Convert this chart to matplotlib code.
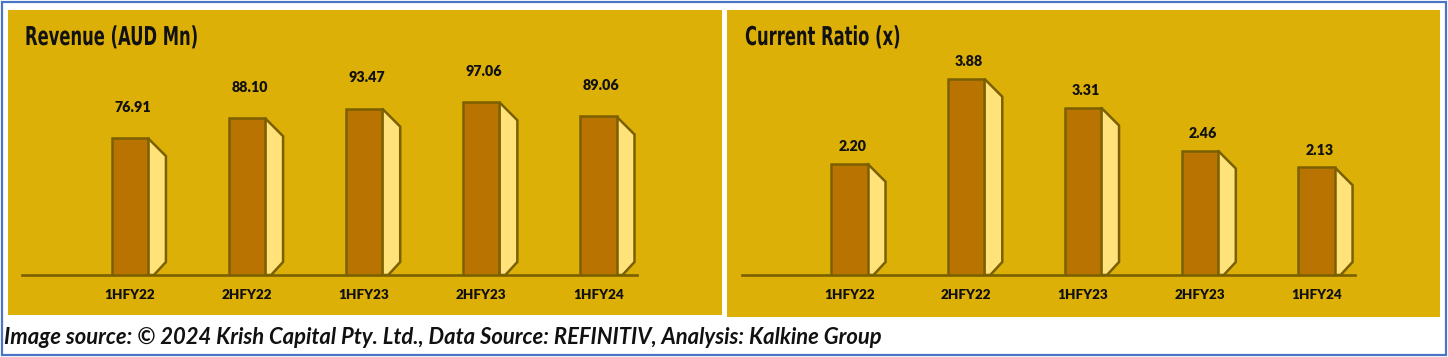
import matplotlib
matplotlib.use("Agg")
import matplotlib.pyplot as plt
from matplotlib.patches import Rectangle, Polygon
from matplotlib.patheffects import AbstractPathEffect
from matplotlib.transforms import Affine2D
import numpy as np

categories = ["1HFY22", "2HFY22", "1HFY23", "2HFY23", "1HFY24"]
revenue = [76.91, 88.10, 93.47, 97.06, 89.06]
current_ratio = [2.20, 3.88, 3.31, 2.46, 2.13]
revenue_labels = ["76.91", "88.10", "93.47", "97.06", "89.06"]
ratio_labels = ["2.20", "3.88", "3.31", "2.46", "2.13"]
titles = ["Revenue (AUD Mn)", "Current Ratio (x)"]
footer = "Image source: \u00a9 2024 Krish Capital Pty. Ltd., Data Source: REFINITIV, Analysis: Kalkine Group"

W, H = 1448, 357
DPI = 100
BG = "#DDB008"
FRONT = "#B87300"
SIDE = "#FFE27A"
EDGE = "#7A6000"
BORDER = "#4A74C6"


class HStretch(AbstractPathEffect):
    """Condense text horizontally about a fixed display x (left edge)."""
    def __init__(self, sx, x0):
        super().__init__()
        self.sx = sx
        self.x0 = x0

    def draw_path(self, renderer, gc, tpath, affine, rgbFace=None):
        t = affine + Affine2D().translate(-self.x0, 0).scale(self.sx, 1).translate(self.x0, 0)
        renderer.draw_path(gc, tpath, t, rgbFace)


fig = plt.figure(figsize=(W / DPI, H / DPI), dpi=DPI)
fig.patch.set_facecolor("white")

def fx(px):
    return px / W

def fy(py):
    return 1 - py / H

# outer border
fig.patches.append(Rectangle((fx(2), fy(355)), fx(1444), 353 / H, transform=fig.transFigure,
                             facecolor="none", edgecolor=BORDER, linewidth=1.6, zorder=-2))
# panels
for (x0, x1, y1) in [(8, 722, 315), (727, 1440, 317)]:
    fig.patches.append(Rectangle((fx(x0), fy(y1)), fx(x1 - x0), (y1 - 10) / H,
                                 transform=fig.transFigure, facecolor=BG, edgecolor="none", zorder=-2))

def make_panel(ax_left_px, ax_right_px, values, labels, ymax, label_off):
    base_px, top_px = 275, 40
    ax = fig.add_axes([fx(ax_left_px), fy(base_px), fx(ax_right_px - ax_left_px), (base_px - top_px) / H])
    ax.set_facecolor("none")
    x = np.arange(len(values))
    ax.set_xlim(-0.92, 4.33)
    ax.set_ylim(0, ymax)
    width = 0.31
    fig.canvas.draw()
    inv = ax.transData.inverted()
    for xi, v in zip(x, values):
        R, T = ax.transData.transform((xi + width / 2, v))
        _, B = ax.transData.transform((xi, 0))
        pts = [(R, T), (R + 18, T - 18), (R + 18, B + 13), (R + 6, B), (R, B)]
        pts_data = inv.transform(pts)
        ax.add_patch(Polygon(pts_data, closed=True, facecolor=SIDE, edgecolor=EDGE,
                             linewidth=1.8, zorder=2, joinstyle="miter"))
    ax.bar(x, values, width=width, color=FRONT, edgecolor=EDGE, linewidth=1.8, zorder=3)
    for xi, v, lab in zip(x, values, labels):
        ax.annotate(lab, (xi, v), xytext=(3, label_off), textcoords="offset pixels",
                    ha="center", va="center", fontsize=10.3, fontweight="heavy",
                    family="Lato", color="#111111")
    for s in ["top", "right", "left"]:
        ax.spines[s].set_visible(False)
    ax.spines["bottom"].set_color(EDGE)
    ax.spines["bottom"].set_linewidth(1.9)
    ax.spines["bottom"].set_zorder(1)
    ax.set_yticks([])
    ax.set_xticks(x)
    ax.set_xticklabels(categories, fontsize=9.7, fontweight="heavy", family="Lato", color="#111111")
    ax.tick_params(axis="x", length=0, pad=10)
    return ax

make_panel(22, 637, revenue, revenue_labels, 235 / 1.78, 31)
make_panel(742, 1355, current_ratio, ratio_labels, 235 / 50.6, 17)

for tx, t in zip([25, 745], titles):
    fig.text(fx(tx), fy(38), t, ha="left", va="center", fontsize=18.7, fontweight="bold",
             family="DejaVu Sans", color="#111111",
             path_effects=[HStretch(0.63, tx)])

fig.text(fx(4), fy(338), footer, ha="left", va="center", fontsize=15.8, fontweight="bold",
         fontstyle="italic", family="Lato", color="#111111")

fig.savefig("out.png", dpi=DPI)
